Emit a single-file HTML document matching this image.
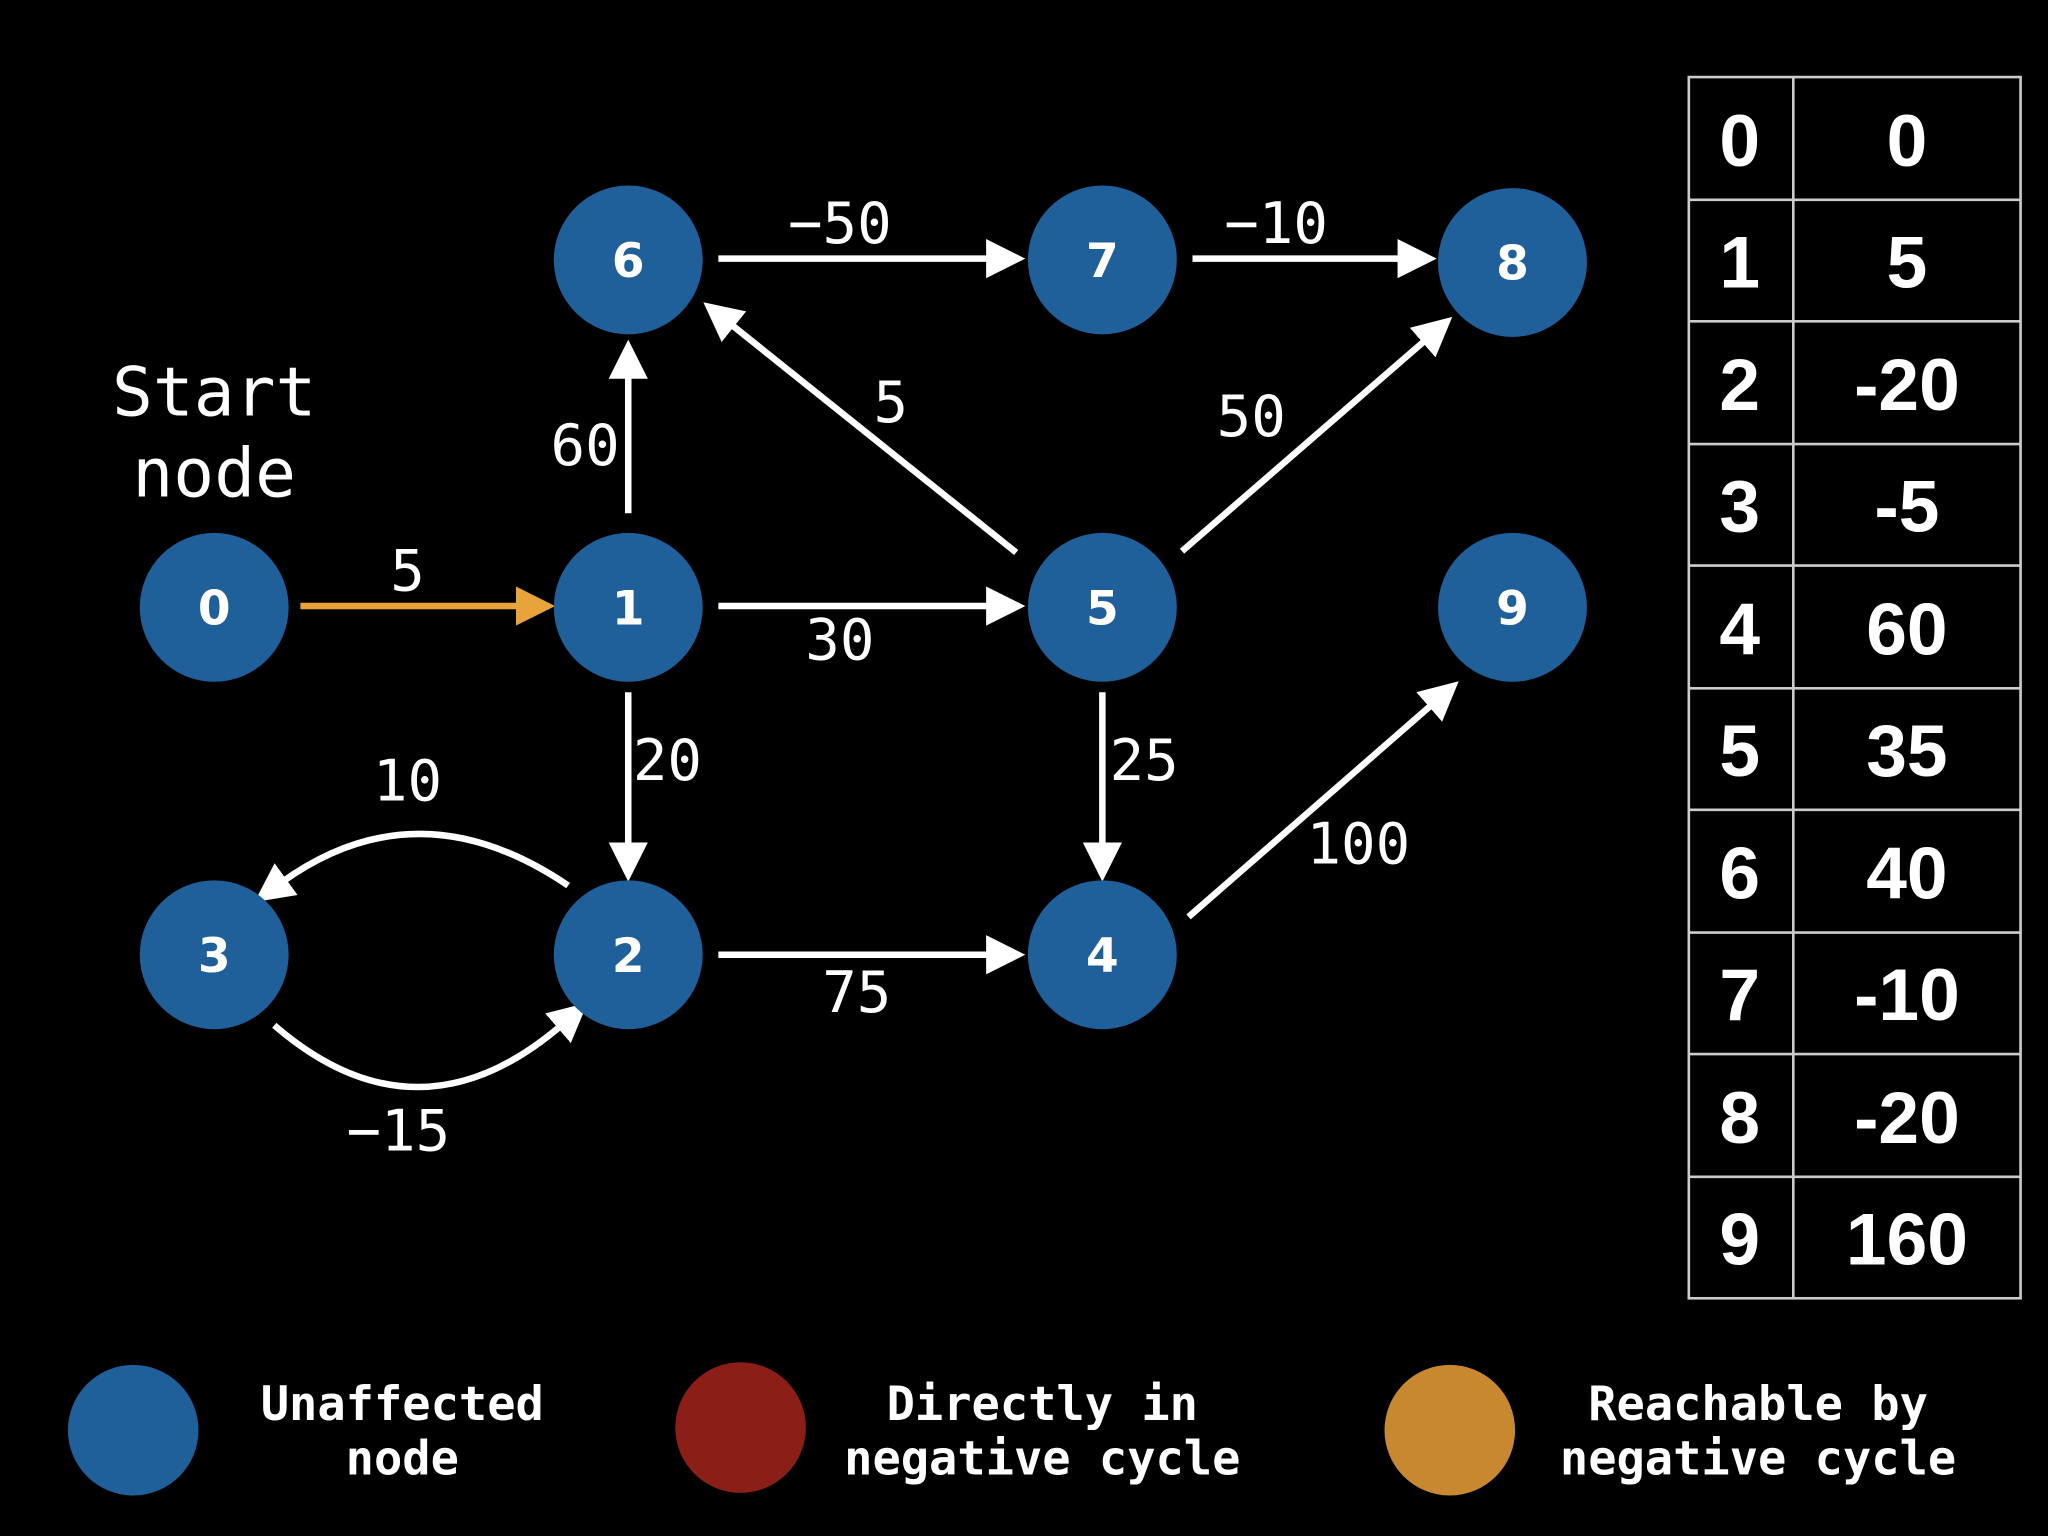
<!DOCTYPE html>
<html><head><style>html,body{margin:0;padding:0;background:#000;}svg{display:block}</style></head>
<body>
<svg xmlns="http://www.w3.org/2000/svg" width="2048" height="1536" viewBox="0 0 1568 1176">
<defs>
<marker id="aw" markerWidth="6" markerHeight="6" refX="1" refY="3" orient="auto" markerUnits="strokeWidth"><path d="M0,0 L6,3 L0,6 z" fill="#fff"/></marker>
<marker id="ao" markerWidth="6" markerHeight="6" refX="1" refY="3" orient="auto" markerUnits="strokeWidth"><path d="M0,0 L6,3 L0,6 z" fill="#e8a33a"/></marker>
</defs>
<rect width="1568" height="1176" fill="#000"/>
<g stroke="#fff" stroke-width="5" fill="none" marker-end="url(#aw)">
<line x1="481" y1="393" x2="481" y2="285"/>
<line x1="550" y1="198" x2="760" y2="198"/>
<line x1="913" y1="198" x2="1075" y2="198"/>
<line x1="778" y1="423" x2="558" y2="247"/>
<line x1="905" y1="422" x2="1093" y2="259"/>
<line x1="550" y1="464" x2="760" y2="464"/>
<line x1="481" y1="530" x2="481" y2="650"/>
<line x1="844" y1="530" x2="844" y2="650"/>
<line x1="550" y1="731" x2="760" y2="731"/>
<line x1="910" y1="702" x2="1098" y2="538"/>
<path d="M435,678 Q320,600 215,676"/>
<path d="M210,785 Q320,880 431,784"/>
</g>
<line x1="230" y1="464" x2="400" y2="464" stroke="#e8a33a" stroke-width="5" marker-end="url(#ao)"/>
<g fill="#1f5f9a">
<circle cx="164" cy="465" r="57"/><circle cx="481" cy="465" r="57"/><circle cx="481" cy="199" r="57"/>
<circle cx="844" cy="199" r="57"/><circle cx="1158" cy="201" r="57"/><circle cx="844" cy="465" r="57"/>
<circle cx="1158" cy="465" r="57"/><circle cx="164" cy="731" r="57"/><circle cx="481" cy="731" r="57"/>
<circle cx="844" cy="731" r="57"/><circle cx="102" cy="1095" r="50"/>
</g>
<circle cx="567" cy="1093" r="50" fill="#8b1f17"/>
<circle cx="1110" cy="1095" r="50" fill="#c8882f"/>
<g fill="#fff" font-family="'DejaVu Sans', 'Liberation Sans', sans-serif" font-weight="bold" font-size="36" text-anchor="middle">
<text x="164" y="478">0</text><text x="481" y="478">1</text><text x="481" y="212">6</text>
<text x="844" y="212">7</text><text x="1158" y="214">8</text><text x="844" y="478">5</text>
<text x="1158" y="478">9</text><text x="164" y="744">3</text><text x="481" y="744">2</text><text x="844" y="744">4</text>
</g>
<g fill="#fff" font-family="'DejaVu Sans Mono', 'Liberation Mono', monospace" font-size="44" text-anchor="middle">
<text x="643" y="186">−50</text><text x="977" y="186">−10</text><text x="682" y="323">5</text>
<text x="448" y="356">60</text><text x="958" y="334">50</text><text x="312" y="452">5</text>
<text x="643" y="505">30</text><text x="511" y="597">20</text><text x="876" y="597">25</text>
<text x="1040" y="661">100</text><text x="312" y="613">10</text><text x="656" y="775">75</text>
<text x="305" y="881">−15</text>
<text x="164" y="318" font-size="52">Start</text><text x="164" y="380" font-size="52">node</text>
</g>
<g fill="#fff" font-family="'DejaVu Sans Mono', 'Liberation Mono', monospace" font-weight="bold" font-size="36" text-anchor="middle">
<text x="308" y="1087">Unaffected</text><text x="308" y="1129">node</text>
<text x="798" y="1087">Directly in</text><text x="798" y="1129">negative cycle</text>
<text x="1346" y="1087">Reachable by</text><text x="1346" y="1129">negative cycle</text>
</g>
<g stroke="#ccc" stroke-width="2" fill="none">
<rect x="1293" y="59" width="254" height="935"/>
<line x1="1373" y1="59" x2="1373" y2="994"/>
<line x1="1293" y1="153" x2="1547" y2="153"/><line x1="1293" y1="246" x2="1547" y2="246"/>
<line x1="1293" y1="340" x2="1547" y2="340"/><line x1="1293" y1="433" x2="1547" y2="433"/>
<line x1="1293" y1="527" x2="1547" y2="527"/><line x1="1293" y1="620" x2="1547" y2="620"/>
<line x1="1293" y1="714" x2="1547" y2="714"/><line x1="1293" y1="807" x2="1547" y2="807"/>
<line x1="1293" y1="901" x2="1547" y2="901"/>
</g>
<g fill="#fff" font-family="'Liberation Sans', sans-serif" font-weight="bold" font-size="56" text-anchor="middle">
<text x="1332" y="127">0</text><text x="1460" y="127">0</text>
<text x="1332" y="220">1</text><text x="1460" y="220">5</text>
<text x="1332" y="314">2</text><text x="1460" y="314">-20</text>
<text x="1332" y="407">3</text><text x="1460" y="407">-5</text>
<text x="1332" y="501">4</text><text x="1460" y="501">60</text>
<text x="1332" y="594">5</text><text x="1460" y="594">35</text>
<text x="1332" y="688">6</text><text x="1460" y="688">40</text>
<text x="1332" y="781">7</text><text x="1460" y="781">-10</text>
<text x="1332" y="875">8</text><text x="1460" y="875">-20</text>
<text x="1332" y="968">9</text><text x="1460" y="968">160</text>
</g>
</svg>
</body></html>
